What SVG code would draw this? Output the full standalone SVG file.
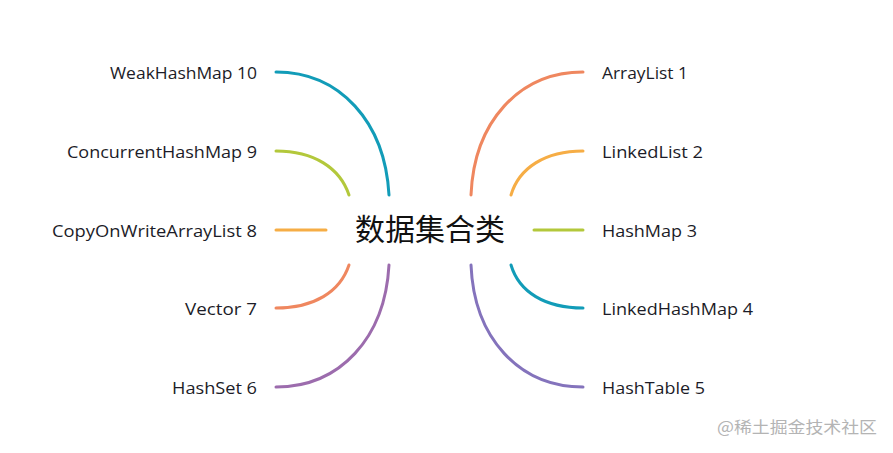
<svg xmlns="http://www.w3.org/2000/svg" width="893" height="453" viewBox="0 0 893 453">
<style>
.bg{fill:#ffffff}
.c{fill:none;stroke-width:3;stroke-linecap:round}
.teal{stroke:#129cb8}
.green{stroke:#b3c83b}
.orange{stroke:#f6ad45}
.salmon{stroke:#ef875f}
.purple{stroke:#9c6cad}
.violet{stroke:#8473bc}
.lbl{font-family:"Open Sans","Liberation Sans",sans-serif;font-size:17px;fill:#1c1c28}
.l{text-anchor:end}
.center{font-family:"Noto Sans CJK SC","Noto Sans",sans-serif;font-size:30px;fill:#111111;text-anchor:middle}
.wm{font-family:"Noto Sans CJK SC","Liberation Sans",sans-serif;font-size:16px;fill:#b4b4b4}
</style>
<rect class="bg" x="0" y="0" width="893" height="453"/>
<g id="connectors">
<path class="c teal" d="M276,72 C340,72 385,122 389,195"/>
<path class="c green" d="M276,151 C314,151 340,168 349,195"/>
<path class="c orange" d="M276,230 L326,230"/>
<path class="c salmon" d="M276,308 C314,308 340,292 349,265"/>
<path class="c purple" d="M276,387 C340,387 385,338 389,265"/>
<path class="c salmon" d="M583,72 C519,72 474,122 471,195"/>
<path class="c orange" d="M583,151 C545,151 519,168 511,195"/>
<path class="c green" d="M534,230 L583,230"/>
<path class="c teal" d="M583,308 C545,308 519,292 511,265"/>
<path class="c violet" d="M583,387 C519,387 474,338 471,265"/>
</g>
<g id="center"><text class="center" x="430" y="240">数据集合类</text></g>
<g id="n10"><text class="lbl l" x="257" y="78.5" textLength="147" lengthAdjust="spacingAndGlyphs">WeakHashMap 10</text></g>
<g id="n9"><text class="lbl l" x="257" y="157.5" textLength="190" lengthAdjust="spacingAndGlyphs">ConcurrentHashMap 9</text></g>
<g id="n8"><text class="lbl l" x="257" y="236.5" textLength="205" lengthAdjust="spacingAndGlyphs">CopyOnWriteArrayList 8</text></g>
<g id="n7"><text class="lbl l" x="257" y="314.5" textLength="72" lengthAdjust="spacingAndGlyphs">Vector 7</text></g>
<g id="n6"><text class="lbl l" x="257" y="393.5" textLength="85" lengthAdjust="spacingAndGlyphs">HashSet 6</text></g>
<g id="n1"><text class="lbl" x="602" y="78.5" textLength="86" lengthAdjust="spacingAndGlyphs">ArrayList 1</text></g>
<g id="n2"><text class="lbl" x="602" y="157.5" textLength="101" lengthAdjust="spacingAndGlyphs">LinkedList 2</text></g>
<g id="n3"><text class="lbl" x="602" y="236.5" textLength="95" lengthAdjust="spacingAndGlyphs">HashMap 3</text></g>
<g id="n4"><text class="lbl" x="602" y="314.5" textLength="151" lengthAdjust="spacingAndGlyphs">LinkedHashMap 4</text></g>
<g id="n5"><text class="lbl" x="602" y="393.5" textLength="103" lengthAdjust="spacingAndGlyphs">HashTable 5</text></g>
<text class="wm" x="717" y="433" textLength="160" lengthAdjust="spacingAndGlyphs">@稀土掘金技术社区</text>
</svg>
